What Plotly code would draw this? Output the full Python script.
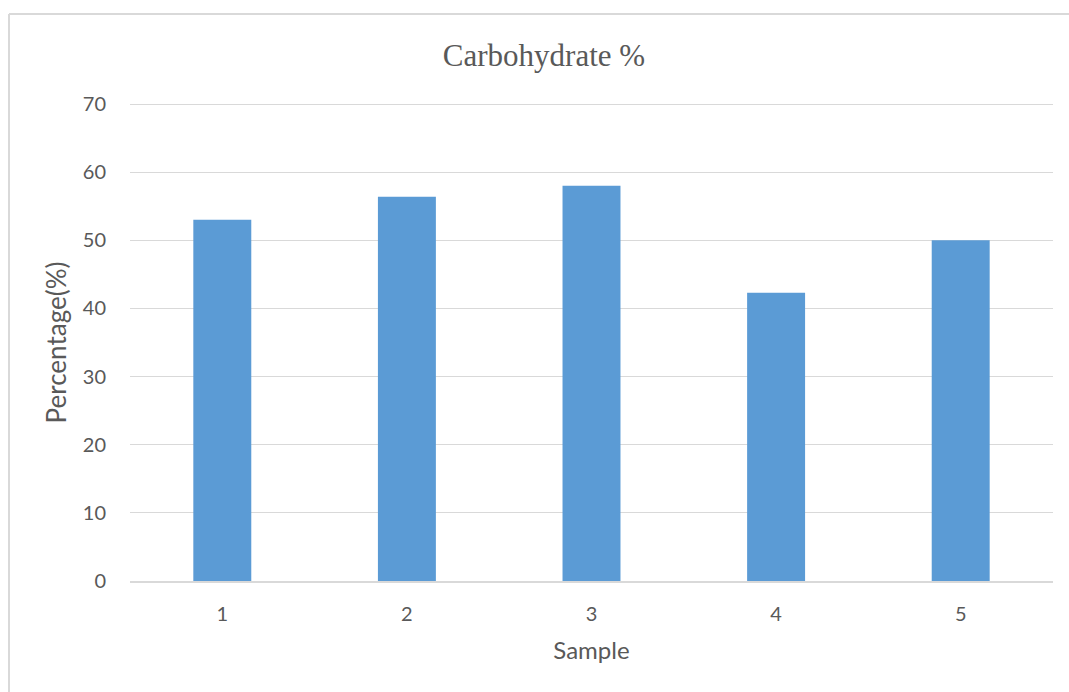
import plotly.graph_objects as go

samples = ["1", "2", "3", "4", "5"]
carbohydrate = [53.0, 56.4, 58.0, 42.3, 50.0]
y_ticks = [0, 10, 20, 30, 40, 50, 60, 70]

W, H = 1069, 692
L, R, T, B = 130, 16, 104, 111
pw, ph = W - L - R, H - T - B

fig = go.Figure()
fig.add_trace(go.Bar(x=samples, y=carbohydrate, marker=dict(color="#5B9BD5", line=dict(width=0)),
                     width=0.314))

text_col = "#595959"
fig.update_layout(
    width=W, height=H,
    margin=dict(l=L, r=R, t=T, b=B),
    paper_bgcolor="white", plot_bgcolor="white",
    showlegend=False,
    title=dict(text="Carbohydrate %", x=544 / W, xanchor="center", y=1 - 55 / H, yanchor="middle",
               font=dict(family="Liberation Serif", size=31, color=text_col)),
    xaxis=dict(type="category", showgrid=False, showline=True, linecolor="#D9D9D9", linewidth=1.5,
               ticks="", tickfont=dict(family="Lato", size=20, color=text_col), ticklabelstandoff=14,
               title=dict(text="Sample", font=dict(family="Lato", size=24, color=text_col), standoff=18)),
    yaxis=dict(range=[y_ticks[0], y_ticks[-1]], tickvals=y_ticks, showgrid=True, gridcolor="#D9D9D9",
               gridwidth=1.3, zeroline=False, showline=False, ticks="",
               tickfont=dict(family="Lato", size=20, color=text_col), ticklabelstandoff=23,
               title=dict(text="Percentage(%)", font=dict(family="Lato", size=26, color=text_col), standoff=8)),
)

# top gridline (at the range edge, which plotly does not draw)
fig.add_shape(type="line", xref="paper", yref="y", x0=0, x1=1, y0=y_ticks[-1], y1=y_ticks[-1],
              line=dict(color="#D9D9D9", width=2), layer="below")

# outer chart border (left and top edges visible)
bx = (9 - L) / pw
by = (H - B - 14) / ph
fig.add_shape(type="line", xref="paper", yref="paper", x0=bx, x1=bx, y0=-0.5, y1=by,
              line=dict(color="#D9D9D9", width=2))
fig.add_shape(type="line", xref="paper", yref="paper", x0=bx, x1=1.2, y0=by, y1=by,
              line=dict(color="#D9D9D9", width=2))

fig.write_html("out.html")
